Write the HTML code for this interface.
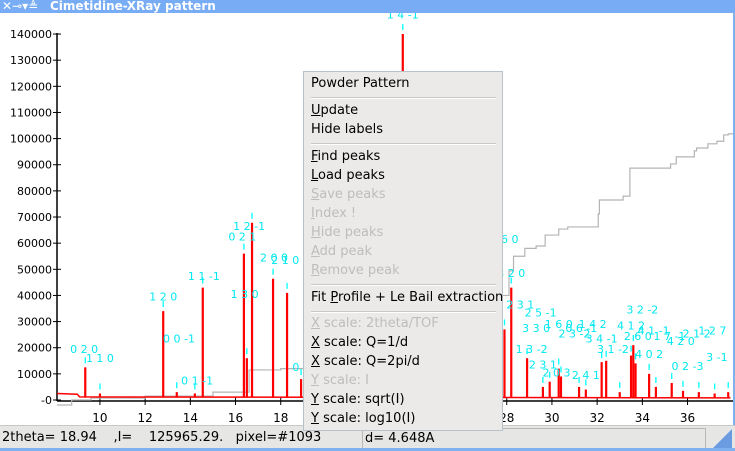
<!DOCTYPE html>
<html><head><meta charset="utf-8">
<style>
html,body{margin:0;padding:0;}
body{width:735px;height:451px;overflow:hidden;position:relative;background:#fff;font-family:"DejaVu Sans","Liberation Sans",sans-serif;}
#title{position:absolute;left:0;top:0;width:735px;height:13px;background:#78acf4;color:#fff;font-weight:bold;font-size:12px;line-height:13px;}
#status{position:absolute;left:0;top:425px;width:735px;height:23px;background:#e6e6e4;border-top:1px solid #c8c8c8;font-size:13px;}
#bottomline{position:absolute;left:0;top:448px;width:735px;height:3px;background:#7fb0f0;}
.sb{position:absolute;top:2px;height:19px;line-height:19px;border:1px solid #b8b8b8;padding-left:2px;white-space:pre;}
#menu{position:absolute;left:303px;top:71px;width:198px;height:358px;background:#ebeae8;border:1px solid #b9c2c8;font-size:13px;}
.mi{position:absolute;left:7px;white-space:pre;color:#000;}
.dis{color:#bdbdbd;}
.sep{position:absolute;left:7px;width:185px;height:1px;background:#c8c8c8;border-bottom:1px solid #fff;}
u{text-decoration:underline;}
</style></head>
<body>
<div id="title">
<span style="position:absolute;left:2px;top:0;font-weight:normal">✕⊸▾≜</span>
<span style="position:absolute;left:50px;">Cimetidine-XRay pattern</span>
</div>
<svg id="chart" width="735" height="425" style="position:absolute;left:0;top:13px"></svg>
<div style="position:absolute;left:733px;top:13px;width:2px;height:412px;background:#7fb0f0"></div>
<div id="status">
<div class="sb" style="left:0;width:356px;border:none">2theta= 18.94    ,I=    125965.29.   pixel=#1093</div>
<div class="sb" style="left:362px;width:340px">d= 4.648A</div>
<div style="position:absolute;right:3px;top:3px;width:0;height:0;border-left:20px solid transparent;border-bottom:20px solid #6b9be0"></div>
</div>
<div id="bottomline"></div>
<div id="menu">
<div class="mi" style="top:4px">Powder Pattern</div>
<div class="sep" style="top:25px"></div>
<div class="mi" style="top:31px"><u>U</u>pdate</div>
<div class="mi" style="top:50px">Hide labels</div>
<div class="sep" style="top:71px"></div>
<div class="mi" style="top:77px"><u>F</u>ind peaks</div>
<div class="mi" style="top:96px"><u>L</u>oad peaks</div>
<div class="mi dis" style="top:115px"><u>S</u>ave peaks</div>
<div class="mi dis" style="top:134px"><u>I</u>ndex !</div>
<div class="mi dis" style="top:153px"><u>H</u>ide peaks</div>
<div class="mi dis" style="top:172px"><u>A</u>dd peak</div>
<div class="mi dis" style="top:191px"><u>R</u>emove peak</div>
<div class="sep" style="top:212px"></div>
<div class="mi" style="top:218px">Fit <u>P</u>rofile + Le Bail extraction</div>
<div class="sep" style="top:239px"></div>
<div class="mi dis" style="top:244px"><u>X</u> scale: 2theta/TOF</div>
<div class="mi" style="top:263px"><u>X</u> scale: Q=1/d</div>
<div class="mi" style="top:282px"><u>X</u> scale: Q=2pi/d</div>
<div class="mi dis" style="top:301px"><u>Y</u> scale: I</div>
<div class="mi" style="top:320px"><u>Y</u> scale: sqrt(I)</div>
<div class="mi" style="top:339px"><u>Y</u> scale: log10(I)</div>
</div>
<script>
const yTicks=[0,10000,20000,30000,40000,50000,60000,70000,80000,90000,100000,110000,120000,130000,140000];
const xTicks=[10,12,14,16,18,20,22,24,26,28,30,32,34,36];
const peakPos=[9.35,10.0,12.8,13.4,14.2,14.55,16.37,16.5,16.73,17.66,18.28,18.9,20.5,23.4,26.5,27.9,28.2,28.9,29.6,29.9,30.3,30.4,31.2,31.5,32.2,32.4,33.0,33.5,33.6,33.7,34.3,34.6,35.3,35.8,36.5,37.2,37.8];
const peakInt=[12500,2500,34000,3000,2500,43000,56000,16000,67800,46400,41000,8000,30000,140000,20000,27000,43000,16000,5000,7000,12000,9000,5000,4000,14500,15000,3000,17000,21000,14000,10000,5000,6500,3500,3000,2500,3000];
const bgX=[8.1,9.0,9.1,37.9];
const bgI=[2500,2200,1200,800];
const cumX=[8.1,8.75,9.6,12.0,15.0,16.6,18.0,22.0,26.0,27.5,28.1,28.3,28.8,29.3,29.7,30.3,30.7,32.05,32.1,33.15,33.45,35.25,35.5,36.3,36.4,36.9,37.3,37.6,37.8];
const cumI=[-1900,0,760,1500,3000,11500,12000,20000,35000,40000,49400,55000,58000,58900,63100,65400,66200,71200,76500,78000,88700,90300,93000,95300,96400,98000,99000,101400,101800];
const lblX=[9.3,10.0,12.8,13.5,14.3,14.6,16.3,16.6,16.4,17.7,18.2,18.9,23.4,27.9,28.2,28.6,29.5,29.3,29.1,30.3,31.0,31.3,31.8,32.2,33.5,33.8,34.0,34.5,35.2,35.7,36.4,37.1,29.6,30.2,31.5,32.7,34.3,36.0,37.3];
const lblI=[18000,14500,38000,22000,6000,46000,61000,65000,39000,53000,52000,11000,146000,60000,47000,35000,32000,26000,18000,27500,24000,26000,27500,22000,27000,23000,33000,25000,23000,21000,24000,25000,12000,9000,8000,18000,16000,11500,15000];
const lblT=["0 2 0","1 1 0","1 2 0","0 0 -1","0 1 -1","1 1 -1","0 2 1","1 2 -1","1 3 0","2 0 0","2 1 0","0 4","1 4 -1","0 6 0","3 2 0","2 3 1","2 5 -1","3 3 0","1 3 -2","1 6 0","2 3 -2","0 6 -1","1 4 2","3 4 -1","4 1 2","2 6 0","3 2 -2","4 1 -1","1 7 -1","4 2 0","2 1 2","1 2 7","2 3 1","2 0 3","2 4 1","3 1 -2","4 0 2","0 2 -3","3 -1"];
const svg=document.getElementById('chart');
const NS='http://www.w3.org/2000/svg';
const X=v=>57+(v-8.1)*22.6;
const Y=v=>387-v*0.002614;
function mk(t,a){const e=document.createElementNS(NS,t);for(const k in a)e.setAttribute(k,a[k]);svg.appendChild(e);return e;}
let e=mk('line',{x1:57,y1:20,x2:57,y2:388,stroke:'#000','stroke-width':1.5});


e=mk('line',{x1:57,y1:388,x2:735,y2:388,stroke:'#000','stroke-width':1.5});


yTicks.forEach(v=>{
  const t=mk('line',{x1:53,x2:61,y1:Y(v),y2:Y(v),stroke:'#000'});
  
  
  const l=mk('text',{x:52,y:Y(v)+4,'text-anchor':'end','font-size':11,'font-family':'DejaVu Sans, sans-serif'});
  l.textContent=v===0?'-0':String(v);
  
  
});
xTicks.forEach(v=>{
  const t=mk('line',{x1:X(v),x2:X(v),y1:384,y2:392,stroke:'#000'});
  
  
  const l=mk('text',{x:X(v),y:409,'text-anchor':'middle','font-size':12,'font-family':'DejaVu Sans, sans-serif'});
  l.textContent=String(v);
  
  
});
let d='';
cumX.forEach((x,i)=>{d+=(i?'H'+X(x)+'V':'M'+X(x)+' ')+Y(cumI[i]);});
d+='H733';
e=mk('path',{d:d,fill:'none',stroke:'#b4b4b4','stroke-width':1.2});


d='';bgX.forEach((x,i)=>{d+=(i?'L':'M')+X(x)+' '+Y(bgI[i]);});
e=mk('path',{d:d,fill:'none',stroke:'#ff0000','stroke-width':1.5});


peakPos.forEach((p,i)=>{
  const b=mk('line',{x1:X(p),x2:X(p),y1:Y(900),y2:Y(peakInt[i]),stroke:'#ff0000','stroke-width':2.2});
  
  
  const m=mk('line',{x1:X(p),x2:X(p),y1:Y(peakInt[i])-10,y2:Y(peakInt[i])-4,stroke:'#00ffff','stroke-width':1.3});
  
  
});
lblX.forEach((x,i)=>{
  const l=mk('text',{x:X(x),y:Y(lblI[i]),'text-anchor':'middle','font-size':11,fill:'#00e8f0','font-family':'DejaVu Sans, sans-serif'});
  l.textContent=lblT[i];
  
  
});
</script>
</body></html>
